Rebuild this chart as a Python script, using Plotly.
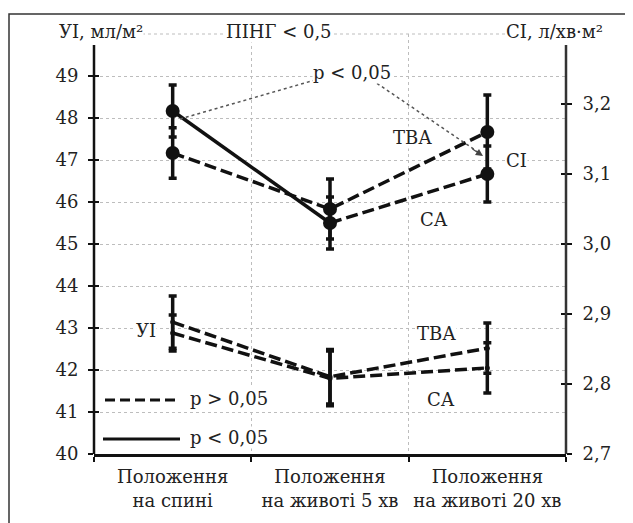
import plotly.graph_objects as go

# ---- data ----
positions = ["Положення<br>на спині", "Положення<br>на животі 5 хв", "Положення<br>на животі 20 хв"]

# СІ, л/хв·м² (right axis)
ci_tva = [3.13, 3.05, 3.16]
ci_tva_err = [0.036, 0.043, 0.053]
ci_sa = [3.19, 3.03, 3.10]
ci_sa_err = [0.037, 0.037, 0.040]

# УІ, мл/м² (left axis)
ui_tva = [43.14, 41.84, 42.52]
ui_tva_err = [0.62, 0.65, 0.60]
ui_sa = [42.88, 41.80, 42.05]
ui_sa_err = [0.43, 0.65, 0.60]

left_ticks = [40, 41, 42, 43, 44, 45, 46, 47, 48, 49]
right_ticks = [2.7, 2.8, 2.9, 3.0, 3.1, 3.2]
right_ticktext = ["2,7", "2,8", "2,9", "3,0", "3,1", "3,2"]

FONT = "DejaVu Serif"
FS = 18
BLACK = "#111"
DASH = "12px,5px"

fig = go.Figure()


def err(vals):
    return dict(type="data", array=vals, visible=True, color=BLACK, thickness=3.5, width=4)


# upper group (СІ) on right axis
fig.add_trace(go.Scatter(x=positions, y=ci_tva, yaxis="y2", mode="lines+markers",
                         line=dict(color=BLACK, width=3.5, dash=DASH),
                         marker=dict(size=14, color=BLACK), error_y=err(ci_tva_err),
                         showlegend=False))
fig.add_trace(go.Scatter(x=positions[:2], y=ci_sa[:2], yaxis="y2", mode="lines",
                         line=dict(color=BLACK, width=3.5), showlegend=False))
fig.add_trace(go.Scatter(x=positions[1:], y=ci_sa[1:], yaxis="y2", mode="lines",
                         line=dict(color=BLACK, width=3.5, dash=DASH), showlegend=False))
fig.add_trace(go.Scatter(x=positions, y=ci_sa, yaxis="y2", mode="markers",
                         marker=dict(size=14, color=BLACK), error_y=err(ci_sa_err),
                         showlegend=False))

# lower group (УІ) on left axis
fig.add_trace(go.Scatter(x=positions, y=ui_tva, yaxis="y", mode="lines+markers",
                         line=dict(color=BLACK, width=3.5, dash=DASH),
                         marker=dict(size=5, color=BLACK), error_y=err(ui_tva_err),
                         showlegend=False))
fig.add_trace(go.Scatter(x=positions, y=ui_sa, yaxis="y", mode="lines+markers",
                         line=dict(color=BLACK, width=3.5, dash=DASH),
                         marker=dict(size=5, color=BLACK), error_y=err(ui_sa_err),
                         showlegend=False))

# invisible traces so the tick-only overlay axes are drawn
fig.add_trace(go.Scatter(x=[positions[0]], y=[None], yaxis="y3", mode="markers",
                         showlegend=False, hoverinfo="skip"))
fig.add_trace(go.Scatter(x=[positions[0]], y=[None], yaxis="y4", mode="markers",
                         showlegend=False, hoverinfo="skip"))

tickfont = dict(family=FONT, size=FS, color="#222")

# page body has an 8px margin: plot area on screen = 94..566 x 34..454
fig.update_layout(
    width=625, height=515,
    margin=dict(l=86, r=67, t=26, b=69),
    paper_bgcolor="white", plot_bgcolor="white",
    font=dict(family=FONT, size=FS, color="#222"),
    xaxis=dict(type="category", categoryarray=positions, tickson="boundaries",
               showgrid=True, gridcolor="#bdbdbd", griddash="dot", gridwidth=1,
               showline=True, linecolor=BLACK, linewidth=2.5,
               ticks="outside", ticklen=5, tickwidth=2, tickcolor=BLACK,
               tickfont=tickfont, zeroline=False, range=[-0.5, 2.5],
               ticklabelstandoff=5, tickangle=0, automargin=False),
    yaxis=dict(range=[40, 50], tickvals=left_ticks, showgrid=True, gridcolor="#bdbdbd",
               griddash="dot", gridwidth=1, showline=False, zeroline=False,
               ticks="outside", ticklen=5, tickwidth=2, tickcolor=BLACK,
               tickfont=tickfont, ticklabelstandoff=6, automargin=False),
    yaxis2=dict(range=[2.7, 3.3], overlaying="y", side="right", anchor="x",
                tickvals=right_ticks, ticktext=right_ticktext, showgrid=False,
                showline=False, zeroline=False, ticks="outside", ticklen=5,
                tickwidth=2, tickcolor=BLACK, tickfont=tickfont, ticklabelstandoff=7,
                automargin=False),
    yaxis3=dict(range=[40, 50], overlaying="y", side="left", anchor="x",
                tickvals=left_ticks, showgrid=False, showline=False, zeroline=False,
                ticks="inside", ticklen=5, tickwidth=2, tickcolor=BLACK,
                showticklabels=False, automargin=False),
    yaxis4=dict(range=[2.7, 3.3], overlaying="y", side="right", anchor="x",
                tickvals=right_ticks, showgrid=False, showline=False, zeroline=False,
                ticks="inside", ticklen=5, tickwidth=2, tickcolor=BLACK,
                showticklabels=False, automargin=False),
)


def px(x):
    return (x - 94) / 472.0


def py(y):
    return (454 - y) / 420.0


shapes = [
    dict(type="rect", xref="paper", yref="paper", x0=px(9), y0=py(540), x1=px(650), y1=py(14),
         line=dict(color="#333", width=1.5), layer="below"),
    dict(type="line", xref="paper", yref="paper", x0=0, x1=1, y0=1, y1=1,
         line=dict(color="#bdbdbd", width=1, dash="dot"), layer="below"),
    dict(type="line", xref="paper", yref="paper", x0=0, x1=0, y0=0, y1=py(45),
         line=dict(color=BLACK, width=2.5)),
    dict(type="line", xref="paper", yref="paper", x0=1, x1=1, y0=0, y1=py(45),
         line=dict(color="#333", width=2.5)),
    dict(type="line", xref="paper", yref="paper", x0=px(180), y0=py(119), x1=px(315), y1=py(80),
         line=dict(color="#555", width=1.5, dash="dot")),
    dict(type="line", xref="paper", yref="paper", x0=px(372), y0=py(80), x1=px(478), y1=py(152),
         line=dict(color="#555", width=1.5, dash="dot")),
    dict(type="line", xref="paper", yref="paper", x0=px(105), x1=px(178), y0=py(400), y1=py(400),
         line=dict(color=BLACK, width=3, dash="10px,5px")),
    dict(type="line", xref="paper", yref="paper", x0=px(103), x1=px(180), y0=py(439), y1=py(439),
         line=dict(color=BLACK, width=3)),
]
fig.update_layout(shapes=shapes)


def txt(t, x, y, xanchor="center"):
    return dict(text=t, xref="paper", yref="paper", x=px(x), y=py(y), xanchor=xanchor,
                yanchor="middle", showarrow=False, bgcolor="white", borderpad=0,
                font=dict(family=FONT, size=FS, color="#222"))


annotations = [
    txt("УІ, мл/м²", 101, 31),
    txt("ПІНГ < 0,5", 279, 31),
    txt("СІ, л/хв·м²", 554, 31),
    txt("p < 0,05", 352, 72),
    txt("ТВА", 412, 137),
    txt("СІ", 516, 160),
    txt("СА", 434, 219),
    txt("УІ", 146, 330),
    txt("ТВА", 436, 333),
    txt("СА", 441, 399),
    txt("p > 0,05", 189, 398, "left"),
    txt("p < 0,05", 189, 437, "left"),
    dict(text="", xref="paper", yref="paper", x=px(483), y=py(156), ax=-12, ay=-8,
         showarrow=True, arrowhead=2, arrowsize=1.2, arrowwidth=1.2, arrowcolor="#444",
         standoff=0),
]
fig.update_layout(annotations=annotations)

fig.write_html("out.html")
